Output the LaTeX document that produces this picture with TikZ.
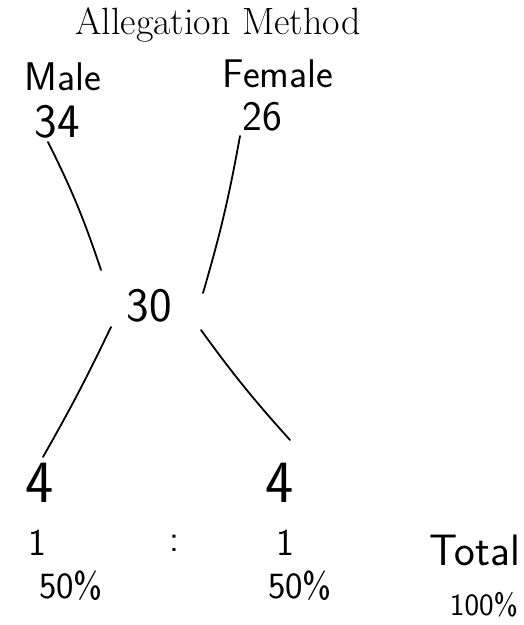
\documentclass[tikz,border=0pt]{standalone}
\usepackage{fontspec}
\begin{document}
\begin{tikzpicture}[x=1pt,y=-1pt,
  hand/.style={font=\sffamily\fontsize{#1}{#1}\selectfont, inner sep=0pt, anchor=center},
  titlefont/.style={font=\fontsize{38}{38}\selectfont, inner sep=0pt, anchor=base},
  stroke/.style={line width=1.8pt, line cap=round}]
\useasboundingbox (0,0) rectangle (524,625);
\node[titlefont] (title) at (218,34) {Allegation Method};
\node[hand=40] (male) at (63,77) {Male};
\node[hand=48] (n34) at (57,122) {34};
\node[hand=40] (female) at (278,74) {Female};
\node[hand=42] (n26) at (262,117) {26};
\node[hand=48] (n30) at (149,306) {30};
\node[hand=60] (n4a) at (40,483) {4};
\node[hand=60] (n4b) at (280,483) {4};
\node[hand=38] (one1) at (37,543) {1};
\node[hand=38] (colon) at (174,543) {:};
\node[hand=38] (one2) at (285,543) {1};
\node[hand=44] (total) at (475,550) {Total};
\node[hand=37] (p1) at (71,586) {50\%};
\node[hand=37] (p2) at (300,586) {50\%};
\node[hand=31] (p3) at (484,605) {100\%};
\coordinate (a1) at (48,142);
\coordinate (a2) at (101,270);
\coordinate (b1) at (240,136);
\coordinate (b2) at (203,293);
\coordinate (c1) at (111,327);
\coordinate (c2) at (43,457);
\coordinate (d1) at (201,330);
\coordinate (d2) at (290,440);
\draw[stroke] (a1) to[bend left=4] (a2);
\draw[stroke] (b1) to[bend left=3] (b2);
\draw[stroke] (c1) to[bend left=2] (c2);
\draw[stroke] (d1) to[bend right=3] (d2);
\end{tikzpicture}
\end{document}
